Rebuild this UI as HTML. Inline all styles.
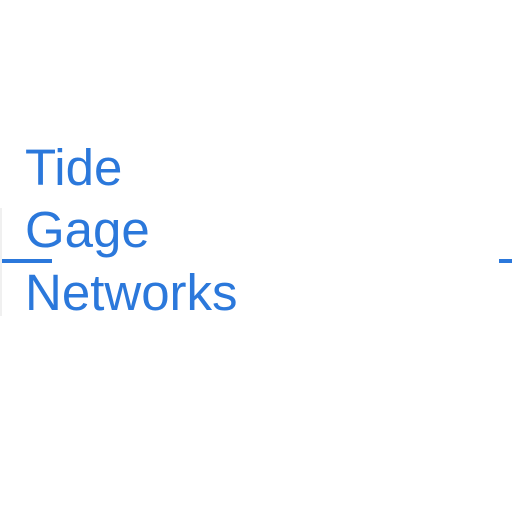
<!DOCTYPE html>
<html><head><meta charset="utf-8"><style>
html,body{margin:0;padding:0;background:#fff;width:512px;height:512px;overflow:hidden;position:relative}
.t{position:absolute;left:25px;font-family:"Liberation Sans",sans-serif;font-size:51px;color:#2b78db;line-height:1;white-space:nowrap}
</style></head><body>
<div class="t" style="top:142px">Tide</div>
<div class="t" style="top:204px">Gage</div>
<div class="t" style="top:267px">Networks</div>
<div style="position:absolute;left:0;top:259px;width:52px;height:4px;background:#2b78db"></div>
<div style="position:absolute;left:499px;top:259px;width:13px;height:4px;background:#2b78db"></div>
<div style="position:absolute;left:0;top:208px;width:2px;height:108px;background:#f0f0f0"></div>
</body></html>
